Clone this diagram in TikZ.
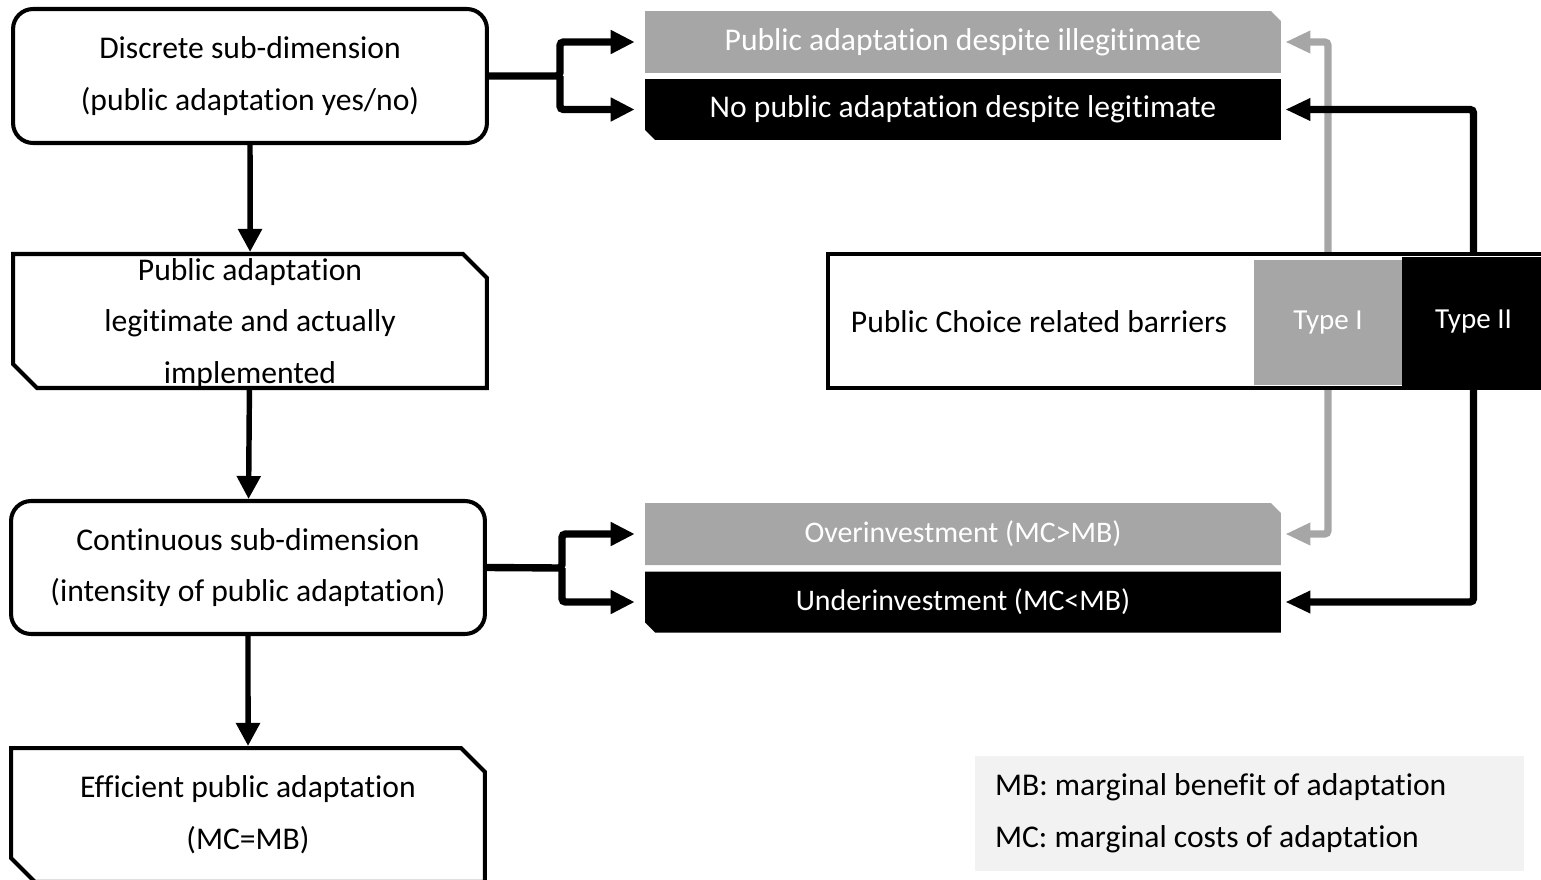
\documentclass[tikz,border=0pt]{standalone}
\usepackage{fontspec}
\setmainfont{Carlito}[Ligatures=NoCommon]
\usetikzlibrary{arrows.meta, shapes.misc}
\definecolor{barGray}{HTML}{A6A6A6}
\definecolor{legendGray}{HTML}{F2F2F2}

\begin{document}
\begin{tikzpicture}[x=0.02cm, y=-0.02cm, font=\fontsize{18}{29.5}\selectfont,
  round box/.style={draw, line width=2.3pt, rounded corners=0.4cm, minimum width=9.48cm, minimum height=2.68cm, align=center, inner sep=0pt},
  snip box/.style={draw, line width=2.3pt, chamfered rectangle, chamfered rectangle corners={north east, south west}, chamfered rectangle xsep=0.24cm, chamfered rectangle ysep=0.24cm, minimum width=9.48cm, minimum height=2.68cm, align=center, inner sep=0pt},
  gray bar/.style={fill=barGray, text=white, chamfered rectangle, chamfered rectangle corners=north east, chamfered rectangle xsep=0.1cm, chamfered rectangle ysep=0.1cm, minimum width=12.72cm, minimum height=1.24cm, inner sep=0pt},
  black bar/.style={fill=black, text=white, chamfered rectangle, chamfered rectangle corners=south west, chamfered rectangle xsep=0.1cm, chamfered rectangle ysep=0.1cm, minimum width=12.72cm, minimum height=1.22cm, inner sep=0pt},
  type box/.style={minimum height=2.52cm, inner sep=0pt, text=white, font=\fontsize{16.5}{20}\selectfont},
  flow/.style={line width=3.1pt, -{Triangle[length=0.46cm, width=0.46cm]}},
  fork/.style={line width=4.2pt, rounded corners=2pt, -{Triangle[length=0.48cm, width=0.45cm]}, shorten >=0.2cm},
  barrier line/.style={line width=4.2pt, rounded corners=2pt, -{Triangle[length=0.5cm, width=0.42cm]}, shorten >=0.08cm}]

    \useasboundingbox (0,0) rectangle (1541,879);

    % Linke Spalte
    \node[round box] (disc) at (250,76) {Discrete sub-dimension\\(public adaptation yes/no)};
    \node[snip box] (legit) at (250,321) {\parbox[c][1.6cm][c]{9cm}{\centering\vspace*{0.1cm}Public adaptation\\legitimate and actually\\implemented}};
    \node[round box, minimum height=2.66cm] (cont) at (248,567.5) {Continuous sub-dimension\\(intensity of public adaptation)};
    \node[snip box] (eff) at (248,815) {Efficient public adaptation\\(MC=MB)};

    \draw[flow] (disc) -- (legit);
    \draw[flow] (legit) -- (cont);
    \draw[flow] (cont) -- (eff);

    % Ergebnisse
    \node[gray bar] (illeg) at (963,42) {Public adaptation despite illegitimate};
    \node[black bar] (nolegit) at (963,109.5) {No public adaptation despite legitimate};
    \node[gray bar, font=\fontsize{17}{20}\selectfont] (over) at (963,534) {Overinvestment (MC>MB)};
    \node[black bar, font=\fontsize{17}{20}\selectfont] (under) at (963,602) {Underinvestment (MC<MB)};

    \coordinate (discfork) at (560,76);
    \coordinate (contfork) at (562,568);
    \draw[fork] (disc.east) -- (discfork) |- (illeg.west);
    \draw[fork] (discfork) |- (nolegit.west);
    \draw[fork] (cont.east) -- (contfork) |- (over.west);
    \draw[fork] (contfork) |- (under.west);

    % Public Choice Barrieren
    \node[draw, line width=2.3pt, minimum width=14.36cm, minimum height=2.68cm] (barr) at (1186.5,321) {};
    \node (barrtxt) at (1039,322) {Public Choice related barriers};
    \node[type box, fill=barGray, minimum width=2.96cm] (type1) at (1328,322.5) {Type I};
    \node[type box, fill=black, minimum width=2.86cm, minimum height=2.62cm] (type2) at (1473.5,322) {Type II};

    \draw[barrier line, barGray] (type1.north |- barr.north) |- (illeg.east);
    \draw[barrier line, barGray] (type1.south |- barr.south) |- (over.east);
    \draw[barrier line] (type2.north |- barr.north) |- (nolegit.east);
    \draw[barrier line] (type2.south |- barr.south) |- (under.east);

    % Legende
    \node[fill=legendGray, minimum width=10.98cm, minimum height=2.3cm, text width=10.18cm, inner xsep=0.4cm, align=flush left] (legend) at (1249.5,813.5) {MB: marginal benefit of adaptation\\MC: marginal costs of adaptation};

\end{tikzpicture}
\end{document}
